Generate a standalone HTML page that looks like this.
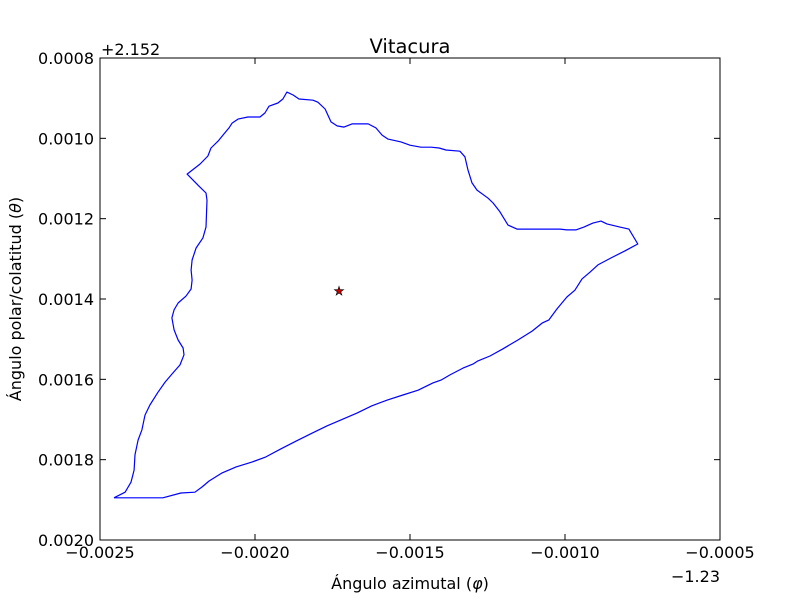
<!DOCTYPE html>
<html><head><meta charset="utf-8"><style>
body{margin:0;background:#fff;}
svg{display:block;font-family:"DejaVu Sans","Liberation Sans",sans-serif;}
</style></head><body>
<svg id="chart" width="800" height="600" viewBox="0 0 800 600">
<rect x="0" y="0" width="800" height="600" fill="#fff"/>
<text x="410" y="53" font-size="19.5" text-anchor="middle">Vitacura</text>
<text x="101" y="55" font-size="16">+2.152</text>
<text x="720" y="582" font-size="16" text-anchor="end">−1.23</text>
<text x="410" y="589" font-size="16" text-anchor="middle">Ángulo azimutal (<tspan font-style="italic">φ</tspan>)</text>
<text transform="translate(21,299) rotate(-90)" font-size="16" text-anchor="middle">Ángulo polar/colatitud (<tspan font-style="italic">θ</tspan>)</text>
<g id="ticks"></g>
<g id="marks"></g>
<rect x="100" y="58" width="620" height="482" fill="none" stroke="#000" stroke-width="1"/>
</svg>
<script>
// values in units of 1e-6, relative to offsets (phi: -1.23, theta: +2.152)
const phiVals=[-2455,-2419,-2400,-2390,-2387,-2377,-2365,-2355,-2339,-2313,-2290,-2268,-2242,-2229,-2232,-2248,-2261,-2268,-2261,-2248,-2223,-2206,-2203,-2206,-2203,-2190,-2168,-2158,-2155,-2158,-2181,-2219,-2177,-2152,-2142,-2119,-2100,-2084,-2074,-2055,-2023,-1984,-1968,-1955,-1926,-1910,-1897,-1877,-1858,-1813,-1797,-1774,-1755,-1735,-1713,-1687,-1635,-1610,-1590,-1571,-1529,-1500,-1465,-1432,-1406,-1384,-1339,-1323,-1313,-1300,-1284,-1248,-1232,-1210,-1184,-1155,-1100,-1016,-994,-965,-939,-910,-884,-865,-823,-794,-765,-806,-852,-894,-919,-945,-968,-994,-1010,-1026,-1052,-1074,-1106,-1152,-1200,-1242,-1281,-1297,-1329,-1371,-1400,-1426,-1474,-1523,-1571,-1623,-1671,-1716,-1768,-1816,-1868,-1916,-1965,-2010,-2061,-2106,-2148,-2171,-2194,-2239,-2297,-2455];
const thetaVals=[1895,1881,1856,1826,1788,1751,1726,1689,1664,1632,1607,1587,1564,1539,1522,1502,1477,1447,1427,1410,1393,1375,1353,1328,1303,1273,1248,1221,1154,1136,1119,1089,1064,1044,1024,1007,989,974,962,952,947,947,937,920,912,902,885,892,902,905,910,927,959,969,972,964,964,974,992,1002,1009,1017,1022,1022,1024,1029,1032,1046,1079,1111,1129,1149,1161,1183,1216,1226,1226,1226,1228,1228,1221,1211,1206,1213,1221,1226,1263,1280,1298,1315,1333,1350,1378,1395,1410,1425,1452,1460,1480,1502,1524,1542,1554,1562,1572,1589,1602,1609,1627,1639,1651,1666,1684,1699,1716,1734,1754,1773,1793,1806,1818,1833,1853,1868,1881,1883,1895,1895];
const centerPhi=[-1729];
const centerTheta=[1380];
const xTicks=[-0.0025,-0.0020,-0.0015,-0.0010,-0.0005];
const xTickLabels=["−0.0025","−0.0020","−0.0015","−0.0010","−0.0005"];
const yTicks=[0.0008,0.0010,0.0012,0.0014,0.0016,0.0018,0.0020];
const yTickLabels=["0.0008","0.0010","0.0012","0.0014","0.0016","0.0018","0.0020"];

const NS="http://www.w3.org/2000/svg";
const X0=100,X1=720,Y0=58,Y1=540;
function xs(v){return X0+(v-(-0.0025))/(0.002)*(X1-X0);}
function ys(v){return Y0+(v-0.0008)/(0.0012)*(Y1-Y0);}
const tg=document.getElementById('ticks'), mg=document.getElementById('marks');
function mk(tag,attrs,parent){const e=document.createElementNS(NS,tag);for(const k in attrs)e.setAttribute(k,attrs[k]);parent.appendChild(e);return e;}
xTicks.forEach((v,i)=>{
  const x=xs(v);
  const a=mk('line',{x1:x,x2:x,y1:Y1,y2:Y1-6,stroke:'#000'},tg);
  
  
  const b=mk('line',{x1:x,x2:x,y1:Y0,y2:Y0+6,stroke:'#000'},tg);
  
  
  const t=mk('text',{x:x,y:558,'font-size':16,'text-anchor':'middle'},tg);
  t.textContent=xTickLabels[i];
  
  
});
yTicks.forEach((v,i)=>{
  const y=ys(v);
  const a=mk('line',{x1:X0,x2:X0+6,y1:y,y2:y,stroke:'#000'},tg);
  
  
  const b=mk('line',{x1:X1,x2:X1-6,y1:y,y2:y,stroke:'#000'},tg);
  
  
  const t=mk('text',{x:94,y:y+6,'font-size':16,'text-anchor':'end'},tg);
  t.textContent=yTickLabels[i];
  
  
});
const pts=phiVals.map((p,i)=>xs(p*1e-6).toFixed(1)+','+ys(thetaVals[i]*1e-6).toFixed(1)).join(' ');
const pl=mk('polyline',{points:pts,fill:'none',stroke:'#0000ff','stroke-width':1.2,'stroke-linejoin':'round'},mg);


centerPhi.forEach((p,i)=>{
  const cx=xs(p*1e-6), cy=ys(centerTheta[i]*1e-6);
  const s=mk('text',{x:cx,y:cy+4,'font-size':12,'text-anchor':'middle',fill:'#cc0000',stroke:'#000','stroke-width':0.6},mg);
  s.textContent='★';
  
  
});
</script>
</body></html>
